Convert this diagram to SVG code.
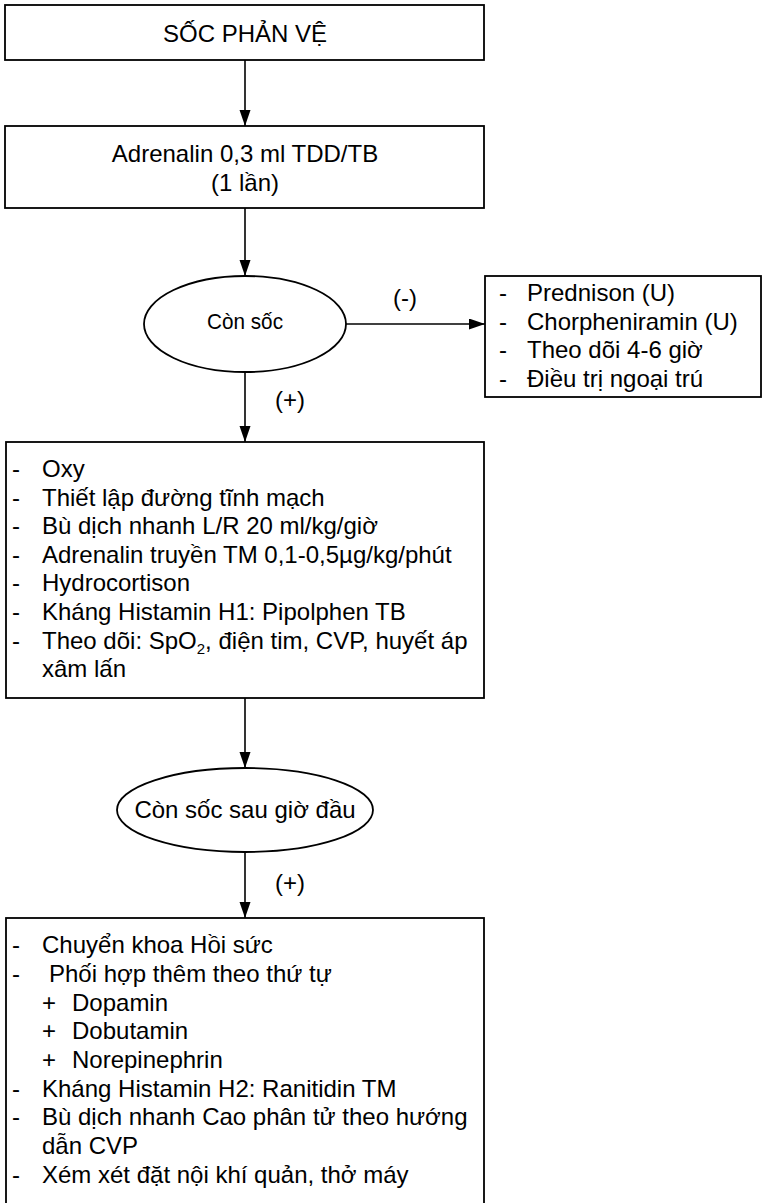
<svg xmlns="http://www.w3.org/2000/svg" width="766" height="1203" viewBox="0 0 766 1203">
  <style>
    .box { fill: #ffffff; stroke: #000000; stroke-width: 1.8; }
    .edge { fill: none; stroke: #000000; stroke-width: 1.6; }
    .t { font-family: "Liberation Sans", Arial, sans-serif; font-size: 24px; fill: #000000; }
    .c { text-anchor: middle; }
    .sub { font-size: 15px; }
  </style>
  <defs>
    <marker id="arrow" markerUnits="userSpaceOnUse" markerWidth="16" markerHeight="12" refX="16" refY="5.5" orient="auto">
      <path d="M0,0 L16,5.5 L0,11 z" fill="#000000"/>
    </marker>
  </defs>

  <rect width="766" height="1203" fill="#ffffff"/>

  <!-- connectors -->
  <g id="connectors">
    <line class="edge" x1="245" y1="60" x2="245" y2="126" marker-end="url(#arrow)"/>
    <line class="edge" x1="245" y1="208" x2="245" y2="276" marker-end="url(#arrow)"/>
    <line class="edge" x1="346" y1="324" x2="485" y2="324" marker-end="url(#arrow)"/>
    <text class="t c" x="405" y="306">(-)</text>
    <line class="edge" x1="245" y1="372" x2="245" y2="442" marker-end="url(#arrow)"/>
    <text class="t c" x="290" y="408">(+)</text>
    <line class="edge" x1="245" y1="698" x2="245" y2="768" marker-end="url(#arrow)"/>
    <line class="edge" x1="245" y1="852" x2="245" y2="918" marker-end="url(#arrow)"/>
    <text class="t c" x="290" y="891">(+)</text>
  </g>

  <!-- start node -->
  <g id="node-soc-phan-ve">
    <rect class="box" x="5" y="5" width="479" height="55"/>
    <text class="t c" x="245" y="42">SỐC PHẢN VỆ</text>
  </g>

  <!-- first dose -->
  <g id="node-adrenalin">
    <rect class="box" x="5" y="126" width="479" height="82"/>
    <text class="t c" x="245" y="162">Adrenalin 0,3 ml TDD/TB</text>
    <text class="t c" x="245" y="191">(1 lần)</text>
  </g>

  <!-- first decision -->
  <g id="node-con-soc">
    <ellipse class="box" cx="245" cy="324" rx="101" ry="48"/>
    <text class="t c" x="245" y="329" font-size="22" textLength="76" lengthAdjust="spacingAndGlyphs" style="font-size:22px">Còn sốc</text>
  </g>

  <!-- negative branch -->
  <g id="node-ngoai-tru">
    <rect class="box" x="485" y="276" width="276" height="121"/>
    <text class="t" x="499" y="301">-</text>
    <text class="t" x="527" y="301">Prednison (U)</text>
    <text class="t" x="499" y="330">-</text>
    <text class="t" x="527" y="330">Chorpheniramin (U)</text>
    <text class="t" x="499" y="358">-</text>
    <text class="t" x="527" y="358">Theo dõi 4-6 giờ</text>
    <text class="t" x="499" y="387">-</text>
    <text class="t" x="527" y="387">Điều trị ngoại trú</text>
  </g>

  <!-- positive branch: initial resuscitation -->
  <g id="node-hoi-suc-ban-dau">
    <rect class="box" x="6" y="442" width="478" height="256"/>
    <text class="t" x="12" y="477">-</text>
    <text class="t" x="42" y="477">Oxy</text>
    <text class="t" x="12" y="506">-</text>
    <text class="t" x="42" y="506">Thiết lập đường tĩnh mạch</text>
    <text class="t" x="12" y="534">-</text>
    <text class="t" x="42" y="534">Bù dịch nhanh L/R 20 ml/kg/giờ</text>
    <text class="t" x="12" y="563">-</text>
    <text class="t" x="42" y="563">Adrenalin truyền TM 0,1-0,5µg/kg/phút</text>
    <text class="t" x="12" y="591">-</text>
    <text class="t" x="42" y="591">Hydrocortison</text>
    <text class="t" x="12" y="620">-</text>
    <text class="t" x="42" y="620">Kháng Histamin H1: Pipolphen TB</text>
    <text class="t" x="12" y="649">-</text>
    <text class="t" x="42" y="649">Theo dõi: SpO<tspan class="sub" dy="5">2</tspan><tspan dy="-5">, điện tim, CVP, huyết áp</tspan></text>
    <text class="t" x="42" y="677">xâm lấn</text>
  </g>

  <!-- second decision -->
  <g id="node-con-soc-sau-gio-dau">
    <ellipse class="box" cx="245" cy="810" rx="128" ry="42"/>
    <text class="t c" x="245" y="818">Còn sốc sau giờ đầu</text>
  </g>

  <!-- escalation -->
  <g id="node-chuyen-hoi-suc">
    <rect class="box" x="6" y="918" width="478" height="300"/>
    <text class="t" x="12" y="953">-</text>
    <text class="t" x="42" y="953">Chuyển khoa Hồi sức</text>
    <text class="t" x="12" y="982">-</text>
    <text class="t" x="49" y="982">Phối hợp thêm theo thứ tự</text>
    <text class="t" x="42" y="1011">+</text>
    <text class="t" x="72" y="1011">Dopamin</text>
    <text class="t" x="42" y="1039">+</text>
    <text class="t" x="72" y="1039">Dobutamin</text>
    <text class="t" x="42" y="1068">+</text>
    <text class="t" x="72" y="1068">Norepinephrin</text>
    <text class="t" x="12" y="1097">-</text>
    <text class="t" x="42" y="1097">Kháng Histamin H2: Ranitidin TM</text>
    <text class="t" x="12" y="1125">-</text>
    <text class="t" x="42" y="1125">Bù dịch nhanh Cao phân tử theo hướng</text>
    <text class="t" x="42" y="1154">dẫn CVP</text>
    <text class="t" x="12" y="1183">-</text>
    <text class="t" x="42" y="1183">Xém xét đặt nội khí quản, thở máy</text>
  </g>
</svg>
